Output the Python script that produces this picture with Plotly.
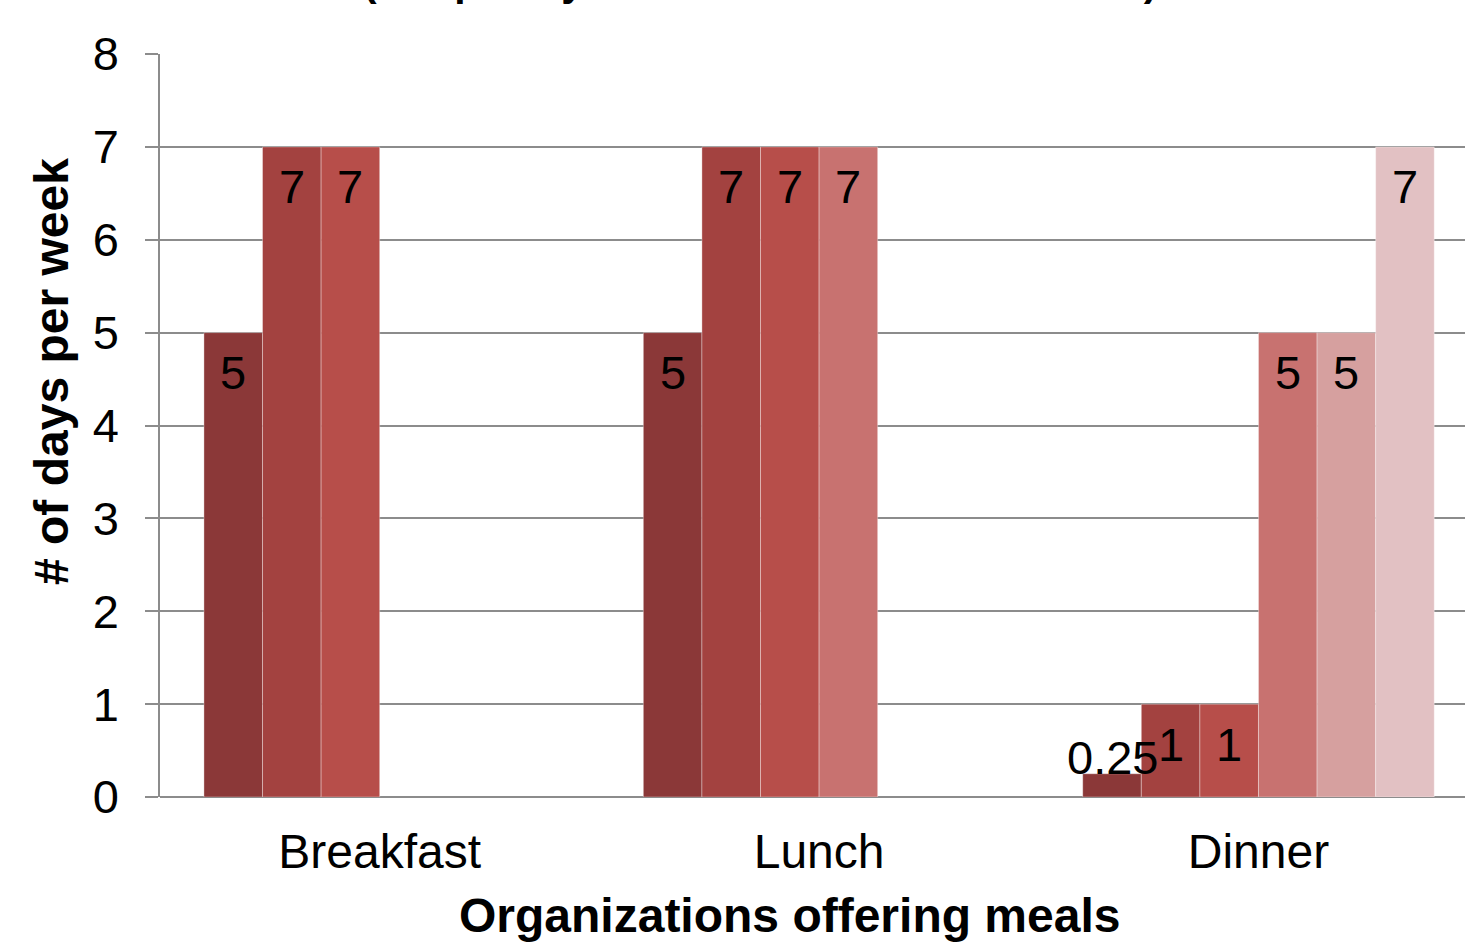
import plotly.graph_objects as go

categories = ["Breakfast", "Lunch", "Dinner"]
org1 = [5, 5, 0.25]
org2 = [7, 7, 1]
org3 = [7, 7, 1]
org4 = [None, 7, 5]
org5 = [None, None, 5]
org6 = [None, None, 7]
series = [org1, org2, org3, org4, org5, org6]
colors = ["#8B3838", "#A34240", "#B74E4A", "#C87270", "#D6A09F", "#E2C1C3"]
y_ticks = [0, 1, 2, 3, 4, 5, 6, 7, 8]

FONT = "Liberation Sans, Arial, sans-serif"
GRID = "#8C8C8C"
n = len(series)
bargap = 0.2
slot = (1 - bargap) / n

fig = go.Figure()
for i, (vals, col) in enumerate(zip(series, colors)):
    fig.add_trace(go.Bar(
        x=list(range(len(categories))), y=vals,
        marker=dict(color=col, line=dict(color="rgba(255,255,255,0.35)", width=1)),
        width=slot, offset=(i - n / 2) * slot, showlegend=False, hoverinfo="skip"))

annotations = []
for i, vals in enumerate(series):
    for j, v in enumerate(vals):
        if v is None:
            continue
        xc = j + (i - n / 2 + 0.5) * slot
        label = ("%g" % v)
        shift = -40 if v >= 0.5 else 16
        annotations.append(dict(x=xc, y=v, xref="x", yref="y", text=label, showarrow=False,
                                yanchor="middle", yshift=shift,
                                font=dict(family=FONT, size=47, color="black")))

# plot area: 1305 x 743 px
annotations.append(dict(x=(789 - 160) / 1305, y=(797 - 916) / 743, xref="paper", yref="paper",
                        text="<b>Organizations offering meals</b>", showarrow=False, yanchor="middle",
                        font=dict(family=FONT, size=48, color="black")))
annotations.append(dict(x=(52 - 160) / 1305, y=(797 - 372) / 743, xref="paper", yref="paper",
                        text="<b># of days per week</b>", showarrow=False, textangle=-90,
                        xanchor="center", yanchor="middle",
                        font=dict(family=FONT, size=48, color="black")))
annotations.append(dict(x=(760 - 160) / 1305, y=(797 + 18) / 743, xref="paper", yref="paper",
                        text="<b>(Frequency of Meals Offered Each Week)</b>", showarrow=False,
                        yanchor="middle", font=dict(family=FONT, size=41, color="black")))

fig.update_layout(
    width=1465, height=942,
    margin=dict(l=160, r=0, t=54, b=145),
    paper_bgcolor="white", plot_bgcolor="white",
    barmode="overlay",
    annotations=annotations,
    xaxis=dict(range=[-0.5, 2.47], tickvals=list(range(len(categories))), ticktext=categories,
               showgrid=False, ticks="", showline=False, zeroline=False,
               tickfont=dict(family=FONT, size=48, color="black"), ticklabelstandoff=22),
    yaxis=dict(range=[0, 8], tickvals=y_ticks, showgrid=True, gridcolor=GRID, gridwidth=1.5,
               ticks="outside", ticklen=13, tickcolor=GRID, tickwidth=1.5,
               showline=True, linecolor=GRID, linewidth=1.5, zeroline=True, zerolinecolor=GRID,
               zerolinewidth=1.5, ticklabelstandoff=17,
               tickfont=dict(family=FONT, size=47, color="black")),
)
fig.write_html("out.html", config={"displayModeBar": False},
               post_script="document.body.style.margin='0';document.body.style.overflow='hidden';")
